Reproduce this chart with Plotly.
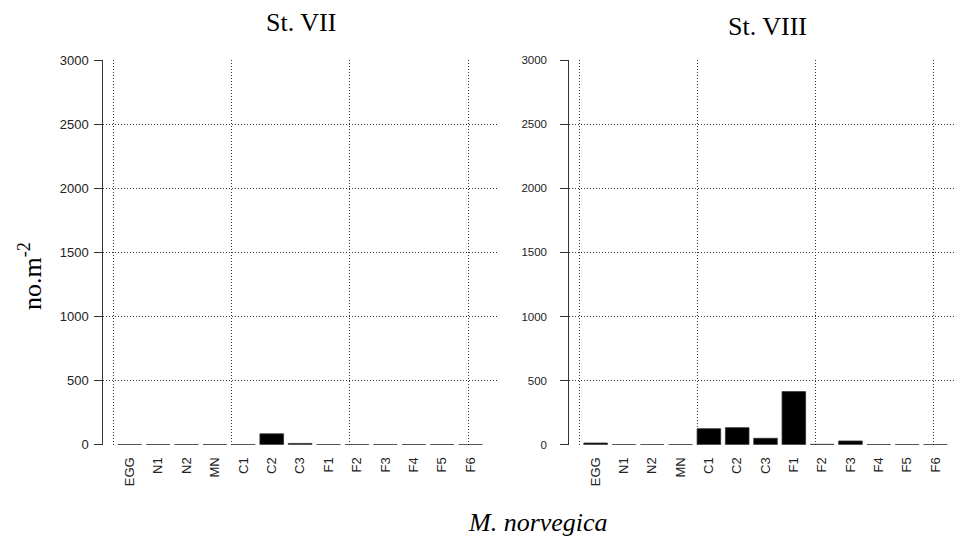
import plotly.graph_objects as go

stages = ["EGG", "N1", "N2", "MN", "C1", "C2", "C3", "F1", "F2", "F3", "F4", "F5", "F6"]
st7_values = [1, 1, 1, 1, 1, 85, 10, 1, 1, 1, 1, 1, 1]
st8_values = [13, 1, 1, 1, 125, 133, 50, 414, 3, 29, 1, 1, 1]
y_ticks = [0, 500, 1000, 1500, 2000, 2500, 3000]
panel_titles = ["St. VII", "St. VIII"]
y_title = "no.m<sup>-2</sup>"
x_title = "<i>M. norvegica</i>"

W, H = 955, 542
GRID = "#333333"
SANS = "Liberation Sans, Arial, sans-serif"
SERIF = "Liberation Serif, Times New Roman, serif"

def cat_range(lo, hi):
    return [(lo - 0.7) / 1.2, (hi - 0.7) / 1.2]

left_dom = [103.3 / W, 497.0 / W]
right_dom = [569.3 / W, 1.0]
y_dom = [(H - 444.7) / H, (H - 60.0) / H]
left_r = [-0.416, 16.216]
right_r = [-0.416, 15.93]

fig = go.Figure()
for vals, xa, ya in [(st7_values, "x", "y"), (st8_values, "x2", "y2")]:
    fig.add_trace(go.Bar(
        x=stages, y=vals, xaxis=xa, yaxis=ya,
        marker=dict(color="black", line=dict(color="#333333", width=0.8)),
        showlegend=False,
    ))

xcommon = dict(type="category", showgrid=False, zeroline=False, showline=False,
               ticks="", tickangle=-90, tickfont=dict(family=SANS, size=13, color="#222222"),
               ticklabelstandoff=9, fixedrange=True, automargin=False)
ycommon = dict(range=[0, 3000], tickvals=y_ticks, showgrid=True, gridcolor=GRID,
               griddash="1px,2px", gridwidth=1, zeroline=False, showline=True,
               linecolor="#333333", linewidth=1, ticks="outside", ticklen=8,
               tickcolor="#333333",
               domain=y_dom, fixedrange=True, automargin=False)
gridax = dict(type="linear", tickvals=[0, 5, 10, 15], showgrid=True, gridcolor=GRID,
              griddash="1px,2px", gridwidth=1, showticklabels=False, ticks="",
              zeroline=False, showline=False, fixedrange=True, automargin=False)

fig.update_layout(
    width=W, height=H,
    template="none",
    margin=dict(l=0, r=0, t=0, b=0, pad=0),
    paper_bgcolor="white", plot_bgcolor="white",
    bargap=1 / 6,
    xaxis=dict(xcommon, domain=left_dom, anchor="y", range=cat_range(*left_r)),
    xaxis2=dict(xcommon, domain=right_dom, anchor="y2", range=cat_range(*right_r)),
    xaxis3=dict(gridax, overlaying="x", anchor="y", range=left_r),
    xaxis4=dict(gridax, overlaying="x2", anchor="y2", range=right_r),
    yaxis=dict(ycommon, anchor="x", ticklabelstandoff=3,
               tickfont=dict(family=SANS, size=13, color="#222222")),
    yaxis2=dict(ycommon, anchor="x2", ticklabelstandoff=11,
                tickfont=dict(family=SANS, size=11.5, color="#222222")),
)

for xa, ya in [("x3", "y"), ("x4", "y2")]:
    fig.add_trace(go.Scatter(x=[None], y=[None], xaxis=xa, yaxis=ya,
                             showlegend=False, hoverinfo="skip"))

annos = [
    dict(text=panel_titles[0], x=301 / W, y=1 - 22 / H),
    dict(text=panel_titles[1], x=767 / W, y=1 - 26 / H),
    dict(text=y_title, x=30 / W, y=1 - 276 / H, textangle=-90),
    dict(text=x_title, x=538 / W, y=1 - 522 / H),
]
for a in annos:
    fig.add_annotation(xref="paper", yref="paper", showarrow=False,
                       xanchor="center", yanchor="middle",
                       font=dict(family=SERIF, size=26, color="black"), **a)

fig.write_html("out.html")
